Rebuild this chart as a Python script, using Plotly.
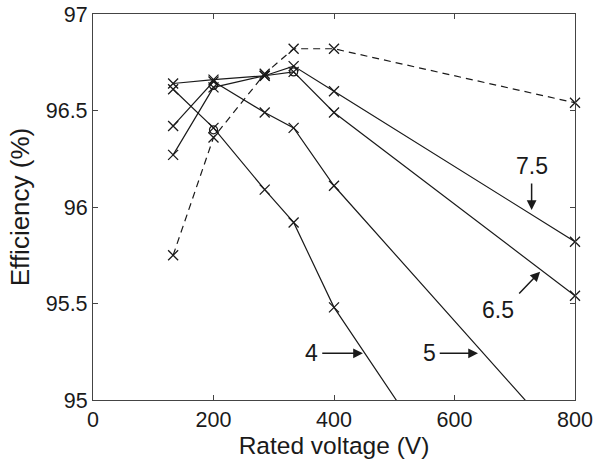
import plotly.graph_objects as go

# Rated voltages (V)
voltages = [133, 200, 285, 333, 400, 800]

# Efficiency (%) series, labelled 4, 5, 6.5, 7.5 and a dashed envelope
eff_4 = [96.61, 96.41, 96.09, 95.92, 95.48, 93.62]
eff_5 = [96.42, 96.65, 96.49, 96.41, 96.11, 94.71]
eff_65 = [96.27, 96.62, 96.68, 96.70, 96.49, 95.54]
eff_75 = [96.64, 96.66, 96.68, 96.73, 96.60, 95.82]
eff_dashed = [95.75, 96.36, 96.69, 96.82, 96.82, 96.54]

# Highlighted (circled) points
circle_x = [200, 200, 333]
circle_y = [96.63, 96.40, 96.70]

# Curve labels: text, text position, arrow tail, arrow tip
labels = ["4", "5", "6.5", "7.5"]
label_pos = [(362, 95.242), (558, 95.242), (672, 95.466), (728, 96.21)]
arrow_tail = [(378, 95.242), (573, 95.242), (705, 95.544), (728, 96.13)]
arrow_tip = [(448, 95.242), (639, 95.242), (742, 95.665), (728, 95.985)]

ink = "#1a1a1a"
font_family = "Liberation Sans, Arial, sans-serif"

fig = go.Figure()

def add_series(y, dash="solid", clip=True):
    fig.add_trace(go.Scatter(
        x=voltages, y=y, mode="lines+markers",
        line=dict(color=ink, width=1.2, dash=dash),
        marker=dict(symbol="x-thin", size=10, line=dict(color=ink, width=1.3)),
        cliponaxis=clip, showlegend=False,
    ))

add_series(eff_4, clip=True)
add_series(eff_5, clip=True)
add_series(eff_65, clip=False)
add_series(eff_75, clip=False)
add_series(eff_dashed, dash="7px,5px", clip=False)

fig.add_trace(go.Scatter(
    x=circle_x, y=circle_y, mode="markers",
    marker=dict(symbol="circle-open", size=8, color=ink, line=dict(color=ink, width=1.2)),
    cliponaxis=False, showlegend=False,
))

annotations = []
for txt, (tx, ty), (ax, ay), (hx, hy) in zip(labels, label_pos, arrow_tail, arrow_tip):
    annotations.append(dict(x=tx, y=ty, xref="x", yref="y", text=txt, showarrow=False,
                            font=dict(size=23, color=ink, family=font_family)))
    annotations.append(dict(x=hx, y=hy, ax=ax, ay=ay, xref="x", yref="y", axref="x", ayref="y",
                            text="", showarrow=True, arrowhead=2, arrowsize=1.3,
                            arrowwidth=1.5, arrowcolor=ink, standoff=0, startstandoff=0))

axis_common = dict(
    showgrid=False, zeroline=False, showline=True, linecolor="#444", linewidth=1.2,
    mirror="ticks", ticks="inside", ticklen=5, tickwidth=1, tickcolor="#444",
    tickfont=dict(size=21.5, color=ink, family=font_family), automargin=False,
)

fig.update_layout(
    width=599, height=462,
    margin=dict(l=93, r=24, t=14, b=62),
    paper_bgcolor="white", plot_bgcolor="white",
    xaxis=dict(range=[0, 800], tickvals=[0, 200, 400, 600, 800],
               title=dict(text="Rated voltage (V)", standoff=2,
                          font=dict(size=24.5, color=ink, family=font_family)),
               **axis_common),
    yaxis=dict(range=[95, 97], tickvals=[95, 95.5, 96, 96.5, 97],
               ticktext=["95", "95.5", "96", "96.5", "97"],
               title=dict(text="Efficiency (%)", standoff=8,
                          font=dict(size=26, color=ink, family=font_family)),
               **axis_common),
    annotations=annotations,
)

fig.write_html("out.html")
